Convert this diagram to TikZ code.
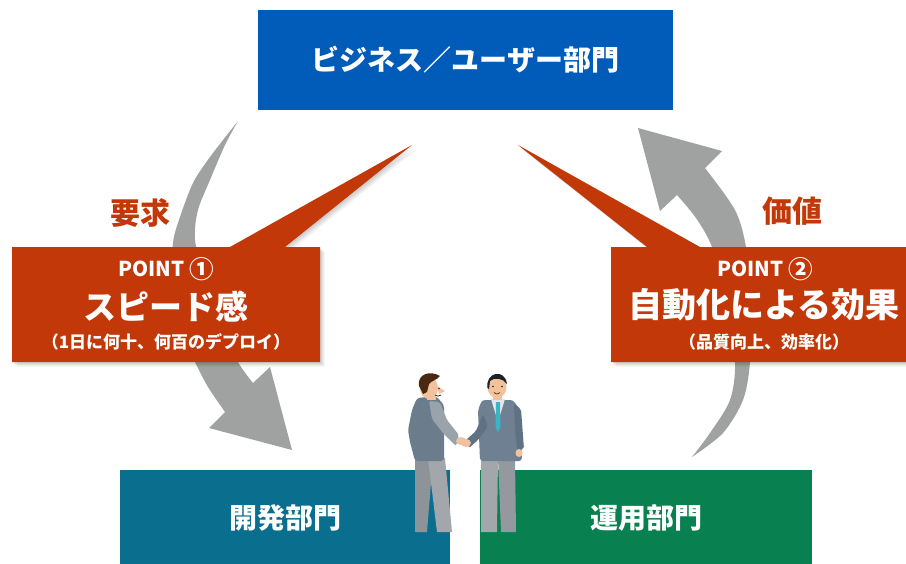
\documentclass[tikz,border=0pt]{standalone}
\usepackage{fontspec}
\setmainfont{Noto Sans CJK JP}
\usetikzlibrary{shadows}

\definecolor{bizblue}{HTML}{005BB9}
\definecolor{devteal}{HTML}{0A6E8E}
\definecolor{opsgreen}{HTML}{08804F}
\definecolor{pointred}{HTML}{C23808}
\definecolor{arrowgray}{HTML}{A0A2A2}
\definecolor{skin}{HTML}{F2C29C}
\definecolor{hairbrown}{HTML}{4A2812}
\definecolor{hairblack}{HTML}{1E2224}
\definecolor{vestgray}{HTML}{6B7C8C}
\definecolor{sleevegray}{HTML}{9AA3AC}
\definecolor{pantlight}{HTML}{A3A7AB}
\definecolor{pantdark}{HTML}{8C9399}
\definecolor{jacketgray}{HTML}{6E8092}
\definecolor{jacketdark}{HTML}{5F7284}
\definecolor{tieteal}{HTML}{3CB4C8}
\definecolor{shirtwhite}{HTML}{E4E8EC}

\tikzset{
  deptbox/.style={draw=none, text=white, inner sep=0pt,
    font=\bfseries\fontsize{28}{30}\selectfont},
  softshadow/.style={
    general shadow={fill=black, opacity=.07, shadow xshift=1.5pt, shadow yshift=-1.5pt},
    general shadow={fill=black, opacity=.07, shadow xshift=3pt, shadow yshift=-3pt},
    general shadow={fill=black, opacity=.06, shadow xshift=4.5pt, shadow yshift=-4.5pt}},
  pointhead/.style={text=white, inner sep=0pt, font=\bfseries\fontsize{20.5}{22}\selectfont},
  pointmain/.style={text=white, inner sep=0pt, font=\bfseries\fontsize{33}{35}\selectfont},
  pointsub/.style={text=white, inner sep=0pt, font=\bfseries\fontsize{17}{19}\selectfont},
  flowlabel/.style={text=pointred, inner sep=0pt, font=\bfseries\fontsize{30}{32}\selectfont},
}
\newcommand{\circnum}[1]{\raisebox{-0.08em}{\scalebox{1.2}{#1}}}

\begin{document}
\begin{tikzpicture}[x=1pt, y=-1pt]
\useasboundingbox (0,0) rectangle (906,563);

% curved gray flow arrows
\fill[arrowgray]
  plot[smooth] coordinates {(238,121) (210,157) (193,183) (180,217) (173,243)
                            (172,290) (180,330) (195,362) (208,387) (225,412)}
  -- (209,428) -- (292,450) -- (270,367)
  -- plot[smooth] coordinates {(253,383) (238,362) (218,320) (205,280) (195,240)
                               (198,210) (210,180) (225,145) (238,121)}
  -- cycle;

\fill[arrowgray]
  plot[smooth] coordinates {(692,457) (723,433) (743,400) (750,362) (751,300)
                            (746,247) (735,210) (705,168)}
  -- (722,151) -- (638,128) -- (660,211)
  -- plot[smooth] coordinates {(677,195) (696,218) (712,247) (727,300) (735,362)
                               (730,400) (710,433) (692,457)}
  -- cycle;

% callouts with pointers
\fill[pointred, softshadow]
  (12,247) -- (230,247) -- (412,145) -- (285,247) -- (320,247)
  -- (320,362) -- (12,362) -- cycle;
\fill[pointred, softshadow]
  (611,247) -- (647,247) -- (518,145) -- (700,247) -- (918,247)
  -- (918,362) -- (611,362) -- cycle;

\node[pointhead] (p1head) at (166,269) {POINT \circnum{①}};
\node[pointmain] (p1main) at (166,307) {スピード感};
\node[pointsub]  (p1sub)  at (166,342) {（1日に何十、何百のデプロイ）};

\node[pointhead] (p2head) at (765,269) {POINT \circnum{②}};
\node[pointmain, font=\bfseries\fontsize{34}{36}\selectfont] (p2main) at (764,305) {自動化による効果};
\node[pointsub]  (p2sub)  at (764,342) {（品質向上、効率化）};

\node[flowlabel] (req) at (140,213) {要求};
\node[flowlabel] (val) at (792,211) {価値};

% department boxes
\node[deptbox, fill=bizblue, minimum width=415pt, minimum height=100pt] (biz) at (465.5,60) {ビジネス／ユーザー部門};
\node[deptbox, fill=devteal, minimum width=330pt, minimum height=96pt] (dev) at (285,518) {開発部門};
\node[deptbox, fill=opsgreen, minimum width=332pt, minimum height=96pt] (ops) at (646,518) {運用部門};

% left person (brown hair, vest)
\fill[pantdark] (415,458) -- (433,458) -- (427,532) -- (415,532) -- cycle;
\fill[pantlight] (428,458) -- (445,458) -- (452,532) -- (437,532) -- cycle;
\fill[vestgray, rounded corners=3pt]
  (417,398) -- (436,396) -- (444,405) -- (444,461) -- (415,461)
  -- (410,442) -- (408,430) -- (412,410) -- cycle;
\fill[skin] (427,392) rectangle (436,400);
\fill[sleevegray, rounded corners=2pt]
  (429,401) -- (440,402) -- (447,420) -- (459,435) -- (456,446)
  -- (443,433) -- (432,419) -- cycle;
\fill[skin] (429,388) ellipse (9pt and 11pt);
\fill[skin] (437,386) -- (445,391) -- (439,394) -- cycle;
\fill[hairbrown] (419,386) .. controls (417,374) and (430,370) .. (440,376)
  .. controls (437,380) and (431,381) .. (429,384) -- (427,392) -- (423,394) -- cycle;
\fill[hairbrown] (439,388.5) circle (0.9pt);
\draw[hairbrown, line width=0.8pt] (435,395) .. controls (438,396.5) .. (441,395);

% right person (black hair, jacket and tie)
\fill[pantlight] (481,458) -- (498,458) -- (497,532) -- (481,532) -- cycle;
\fill[pantdark!70!pantlight] (498,458) -- (515,458) -- (516,532) -- (501,532) -- cycle;
\fill[jacketgray, rounded corners=3pt]
  (482,400) -- (513,400) -- (520,410) -- (522,461) -- (480,461) -- (478,410) -- cycle;
\fill[shirtwhite] (491,399) -- (505,399) -- (498,422) -- cycle;
\fill[tieteal] (496,402) -- (500,402) -- (500.5,427) -- (498,432) -- (495.5,427) -- cycle;
\fill[jacketdark, rounded corners=2pt]
  (483,414) -- (488,426) -- (478,440) -- (469,448) -- (466,440) -- (476,431) -- cycle;
\fill[jacketdark, rounded corners=2pt]
  (514,404) -- (521,409) -- (524,449) -- (517,450) -- (515,428) -- cycle;
\fill[skin] (519,453) ellipse (3.5pt and 4pt);
\fill[skin] (493,393) rectangle (502,400);
\fill[skin] (497,387) ellipse (9.5pt and 11pt);
\fill[hairblack] (487.5,388) .. controls (485,372) and (505,368) .. (507,384)
  .. controls (503,378) and (494,377) .. (490,381) -- (489,389) -- cycle;
\fill[hairblack] (493,386.5) circle (0.9pt) (502,386.5) circle (0.9pt);
\draw[hairbrown, line width=0.7pt] (494,392.5) .. controls (497,394.5) .. (500,392.5);

% clasped hands
\fill[skin] (466,443) ellipse (5pt and 4pt);
\fill[skin] (461,441) ellipse (5pt and 4pt);
\end{tikzpicture}
\end{document}
